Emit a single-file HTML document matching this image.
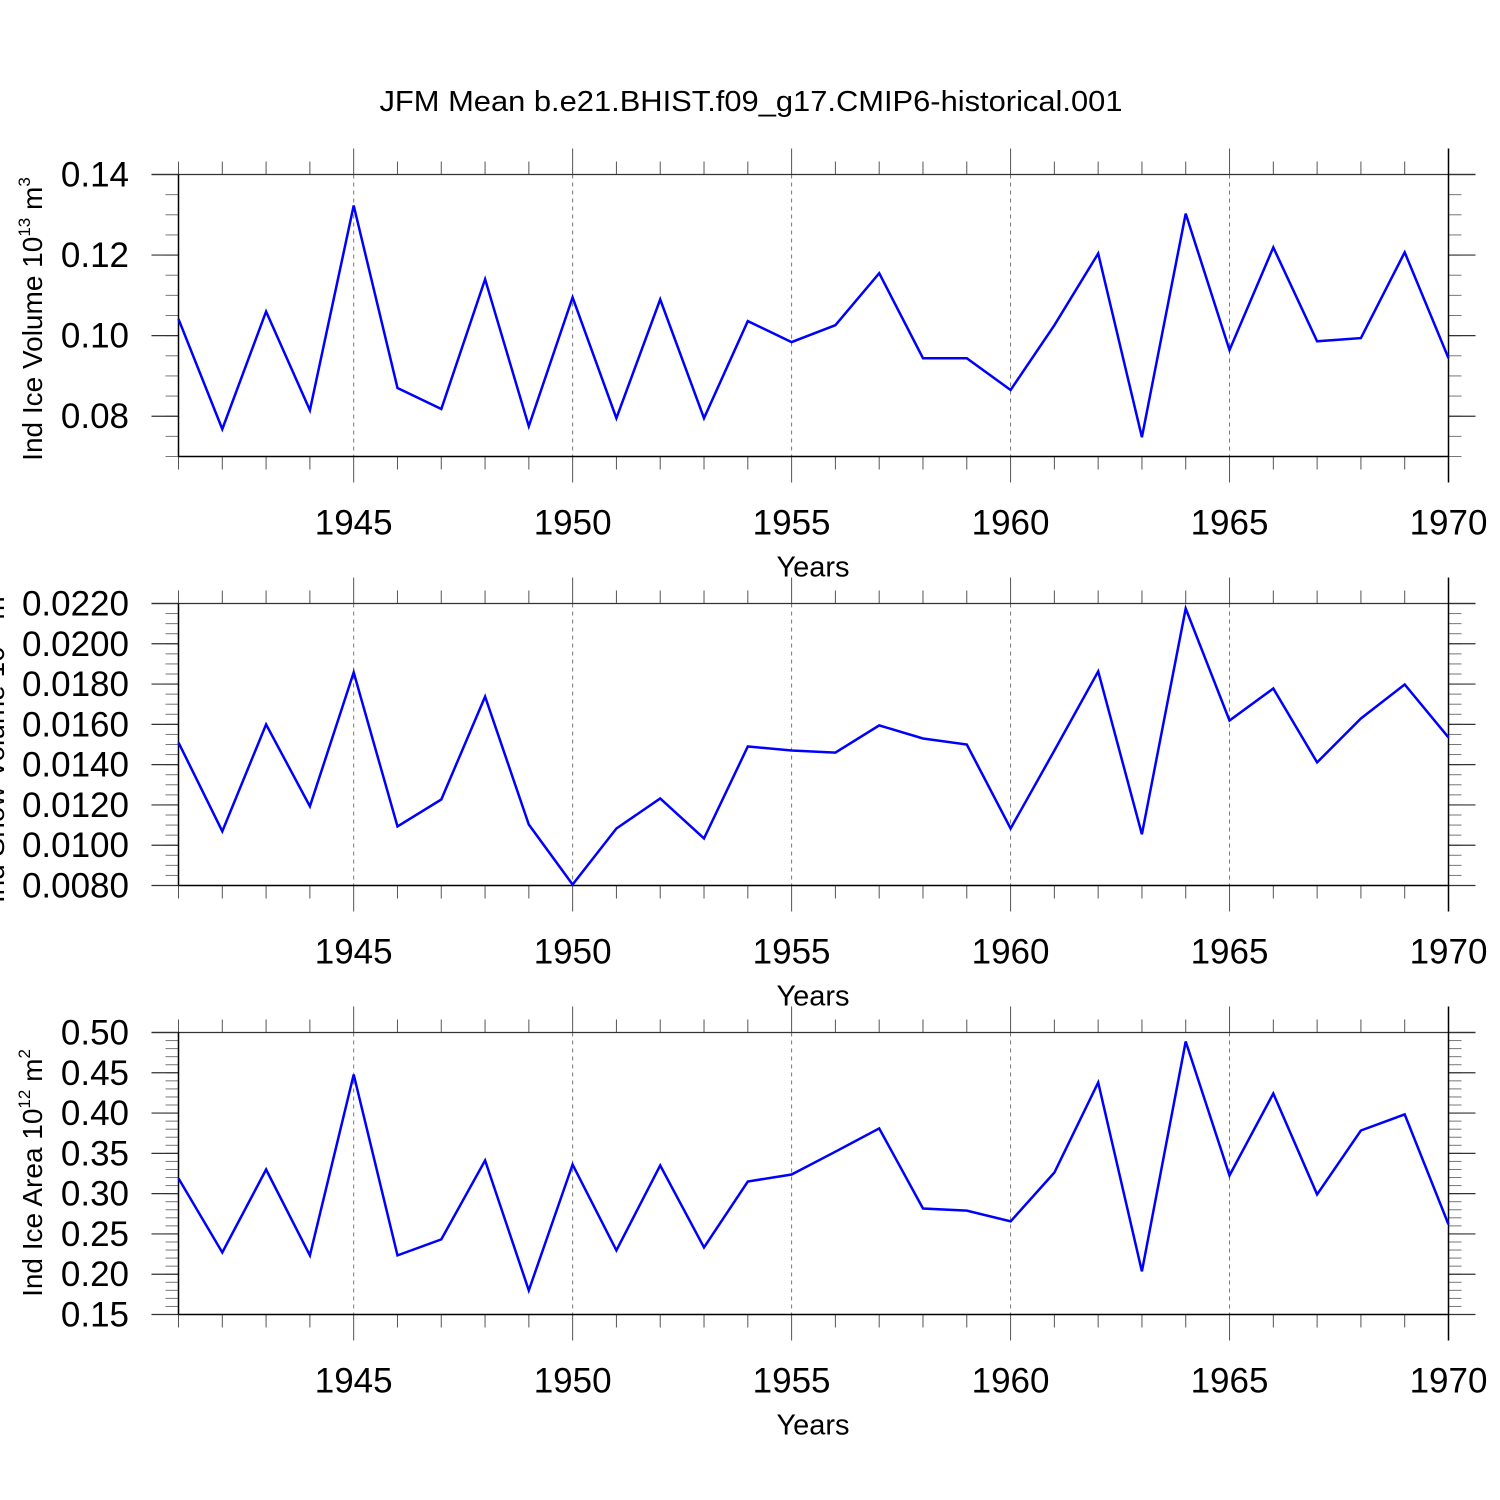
<!DOCTYPE html>
<html><head><meta charset="utf-8"><style>
html,body{margin:0;padding:0;background:#fff;}
svg{display:block;font-family:"Liberation Sans",sans-serif;}
</style></head><body>
<svg id="chart" width="1500" height="1500" viewBox="0 0 1500 1500" xmlns="http://www.w3.org/2000/svg">
<text x="751" y="111" font-size="29" text-anchor="middle" textLength="743" lengthAdjust="spacingAndGlyphs">JFM Mean b.e21.BHIST.f09_g17.CMIP6-historical.001</text>
</svg>
<script>
const years = [1941,1942,1943,1944,1945,1946,1947,1948,1949,1950,1951,1952,1953,1954,1955,1956,1957,1958,1959,1960,1961,1962,1963,1964,1965,1966,1967,1968,1969,1970];
const iceVolume = [0.1041,0.0768,0.106,0.0815,0.1323,0.087,0.0818,0.114,0.0775,0.1095,0.0795,0.109,0.0795,0.1036,0.0984,0.1026,0.1155,0.0944,0.0944,0.0865,0.1026,0.1204,0.0748,0.1303,0.0964,0.1219,0.0986,0.0994,0.1207,0.0944];
const snowVolume = [0.0151,0.01069,0.016,0.01193,0.01858,0.01093,0.01227,0.01738,0.01103,0.00805,0.01083,0.01232,0.01034,0.0149,0.0147,0.0146,0.01595,0.0153,0.015,0.01083,0.0147,0.01863,0.01054,0.02175,0.01619,0.01778,0.01411,0.01629,0.01798,0.01535];
const iceArea = [0.3189,0.227,0.33,0.2233,0.4479,0.2233,0.2432,0.3412,0.1799,0.3362,0.2295,0.335,0.2332,0.3151,0.3238,0.352,0.381,0.2816,0.279,0.2655,0.3263,0.438,0.2035,0.4888,0.3226,0.4243,0.299,0.3784,0.3983,0.2618];
const xTicks = [1945,1950,1955,1960,1965,1970];
const iceVolTicks = [0.08,0.10,0.12,0.14];
const iceVolTickLabels = ["0.08","0.10","0.12","0.14"];
const snowTicks = [0.008,0.010,0.012,0.014,0.016,0.018,0.020,0.022];
const snowTickLabels = ["0.0080","0.0100","0.0120","0.0140","0.0160","0.0180","0.0200","0.0220"];
const areaTicks = [0.15,0.20,0.25,0.30,0.35,0.40,0.45,0.50];
const areaTickLabels = ["0.15","0.20","0.25","0.30","0.35","0.40","0.45","0.50"];

const svg = document.getElementById('chart');
const NS = 'http://www.w3.org/2000/svg';
const L = 178.5, R = 1448.5;
function xs(yr){ return L + (yr-1941)/(1970-1941)*(R-L); }
function mk(tag, attrs, parent){
  const e = document.createElementNS(NS, tag);
  for (const k in attrs) e.setAttribute(k, attrs[k]);
  (parent||svg).appendChild(e);
  return e;
}
const panels = [
  {name:'ice-volume', top:174.5, bot:456.5, ymin:0.07, ymax:0.14, data:iceVolume, ticks:iceVolTicks, labels:iceVolTickLabels, minor:0.005, lx:42, ly:319, title:'Ind Ice Volume 10', sup:'13', unit:' m', usup:'3'},
  {name:'snow-volume', top:603.5, bot:885.5, ymin:0.008, ymax:0.022, data:snowVolume, ticks:snowTicks, labels:snowTickLabels, minor:0.0005, lx:4, ly:745, title:'Ind Snow Volume 10', sup:'13', unit:' m', usup:'3'},
  {name:'ice-area', top:1032.5, bot:1314.5, ymin:0.15, ymax:0.50, data:iceArea, ticks:areaTicks, labels:areaTickLabels, minor:0.01, lx:42, ly:1173, title:'Ind Ice Area 10', sup:'12', unit:' m', usup:'2'}
];
panels.forEach(p => {
  const g = mk('g', {});
  
  
  const ys = v => p.bot - (v-p.ymin)/(p.ymax-p.ymin)*(p.bot-p.top);
  xTicks.slice(0,5).forEach(t => {
    const l = mk('line', {x1:xs(t), x2:xs(t), y1:p.top, y2:p.bot, stroke:'#777', 'stroke-width':1, 'stroke-dasharray':'4,4'}, g);
    
    
  });
  for (let v = p.ymin; v <= p.ymax + 1e-9; v += p.minor) {
    const y = ys(v);
    mk('line', {x1:L-13, x2:L, y1:y, y2:y, stroke:'#777', 'stroke-width':1}, g);
    mk('line', {x1:R, x2:R+13, y1:y, y2:y, stroke:'#777', 'stroke-width':1}, g);
  }
  p.ticks.forEach((t,i) => {
    const y = ys(t);
    mk('line', {x1:L-27, x2:L, y1:y, y2:y, stroke:'#333', 'stroke-width':1.2}, g);
    mk('line', {x1:R, x2:R+27, y1:y, y2:y, stroke:'#333', 'stroke-width':1.2}, g);
    const tx = mk('text', {x:129, y:y+12, 'font-size':35, 'text-anchor':'end'}, g);
    
    
    tx.textContent = p.labels[i];
  });
  years.forEach(yr => {
    const x = xs(yr);
    const major = xTicks.indexOf(yr) >= 0;
    const len = major ? 26 : 13;
    mk('line', {x1:x, x2:x, y1:p.top-len, y2:p.top, stroke:'#555', 'stroke-width':1}, g);
    mk('line', {x1:x, x2:x, y1:p.bot, y2:p.bot+len, stroke:'#555', 'stroke-width':1}, g);
  });
  xTicks.forEach(t => {
    const tx = mk('text', {x:xs(t), y:p.bot+78, 'font-size':35, 'text-anchor':'middle'}, g);
    
    
    tx.textContent = t;
  });
  const xt = mk('text', {x:813, y:p.bot+120, 'font-size':29, 'text-anchor':'middle'}, g);
  
  
  xt.textContent = 'Years';
  mk('line', {x1:L-27, x2:R+27, y1:p.top, y2:p.top, stroke:'#333', 'stroke-width':1.2}, g);
  mk('line', {x1:L, x2:R, y1:p.bot, y2:p.bot, stroke:'#000', 'stroke-width':1.5}, g);
  mk('line', {x1:L, x2:L, y1:p.top, y2:p.bot, stroke:'#000', 'stroke-width':1.5}, g);
  mk('line', {x1:R, x2:R, y1:p.top-26, y2:p.bot+26, stroke:'#000', 'stroke-width':1.5}, g);
  const yt = mk('text', {transform:'translate('+p.lx+','+p.ly+') rotate(-90)', 'font-size':28, 'text-anchor':'middle'}, g);
  
  
  yt.appendChild(document.createTextNode(p.title));
  const s1 = mk('tspan', {'font-size':17, dy:-12}, yt); s1.textContent = p.sup;
  const s2 = mk('tspan', {dy:12}, yt); s2.textContent = p.unit;
  const s3 = mk('tspan', {'font-size':17, dy:-12}, yt); s3.textContent = p.usup;
  const pts = p.data.map((v,i) => xs(years[i]).toFixed(1)+','+ys(v).toFixed(1)).join(' ');
  const pl = mk('polyline', {points:pts, fill:'none', stroke:'#0000ff', 'stroke-width':2.5, 'stroke-linejoin':'miter'}, g);
  
  
});
</script>
</body></html>
